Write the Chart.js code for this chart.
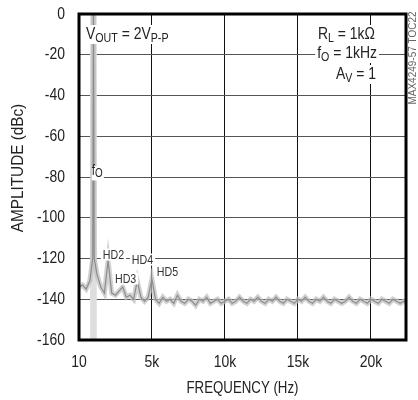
<!DOCTYPE html>
<html>
<head>
<meta charset="utf-8">
<script src="https://cdn.jsdelivr.net/npm/chart.js@4.4.0/dist/chart.umd.min.js"></script>
<style>
  html, body { margin: 0; padding: 0; background: #fff; }
</style>
</head>
<body>
<canvas id="GraficoFFT" width="418" height="400"></canvas>
<script>
// spectrum trace (Hz, dBc)
const freqHz = [10, 250, 500, 750, 950, 1000, 1050, 1250, 1500, 1750, 2000, 2250, 2500, 2750,
  3000, 3250, 3500, 3750, 4000, 4250, 4500, 4750, 5000, 5250, 5500, 5750, 6000, 6250, 6500, 6750,
  7000, 7250, 7500, 7750, 8000, 8250, 8500, 8750, 9000, 9250, 9500, 9750, 10000, 10250, 10500, 10750,
  11000, 11250, 11500, 11750, 12000, 12250, 12500, 12750, 13000, 13250, 13500, 13750, 14000, 14250,
  14500, 14750, 15000, 15250, 15500, 15750, 16000, 16250, 16500, 16750, 17000, 17250, 17500, 17750,
  18000, 18250, 18500, 18750, 19000, 19250, 19500, 19750, 20000, 20250, 20500, 20750, 21000, 21250,
  21500, 21750, 22000, 22250, 22400];
const levelDbc = [-134, -133, -135, -131, -120, 0, -120, -128, -134, -137, -121, -137, -138, -136,
  -134, -139, -138, -140, -131, -139, -141, -139, -130, -140, -142, -139, -141, -140, -142, -138,
  -141, -142, -140, -141, -143, -140, -141, -139, -142, -141, -140, -142, -141, -140, -142, -141,
  -139, -141, -142, -140, -141, -139, -141, -142, -140, -141, -139, -141, -142, -140,
  -141, -142, -140, -141, -139, -141, -142, -140, -141, -139, -141, -142, -140, -141,
  -142, -141, -139, -141, -142, -140, -141, -142, -140, -141, -142, -140, -141, -142,
  -140, -141, -142, -141, -141];

const fundamentalHz = 1000;
const fundamentalDbc = 0;

const yMin = -160;
const yMax = 0;
const yStep = 20;
const xMin = 10;
const xMax = 22400;
const xTickValues = [10, 5000, 10000, 15000, 20000];
const xTickLabels = ['10', '5k', '10k', '15k', '20k'];

// harmonic labels: text, left edge (Hz), baseline (dBc)
const markText = ['HD2', 'HD4', 'HD3', 'HD5'];
const markHz = [1640, 3630, 2470, 5340];
const markDbc = [-120, -122.5, -131.8, -128.8];

const FONT = "'Liberation Sans', Arial, sans-serif";
const NARROW = 0.82;

// texto estreito (a fonte original e condensada)
function texto(ctx, t, x, y, size, align, base, sx) {
  ctx.save();
  ctx.translate(x, y);
  ctx.scale(sx || NARROW, 1);
  ctx.font = size + 'px ' + FONT;
  ctx.textAlign = align;
  ctx.textBaseline = base;
  ctx.fillText(t, 0, 0);
  ctx.restore();
}

function drawParts(ctx, parts, x, y, align, bg) {
  // parts: [texto, tamanho, deslocamento vertical]
  let total = 0;
  parts.forEach(p => { ctx.font = p[1] + 'px ' + FONT; total += ctx.measureText(p[0]).width * NARROW; });
  let cx = align === 'right' ? x - total : x;
  if (bg) {
    ctx.fillStyle = '#fff';
    ctx.fillRect(cx - 2, y - 14, total + 4, 19);
  }
  ctx.fillStyle = '#222';
  parts.forEach(p => {
    texto(ctx, p[0], cx, y + p[2], p[1], 'left', 'alphabetic');
    ctx.font = p[1] + 'px ' + FONT;
    cx += ctx.measureText(p[0]).width * NARROW;
  });
}

const textos = {
  id: 'textos',
  afterDatasetsDraw(chart) {
    const ctx = chart.ctx;
    const a = chart.chartArea;
    const xs = chart.scales.x;
    const ys = chart.scales.y;
    ctx.save();
    drawParts(ctx, [['V', 17, 0], ['OUT', 13, 3], [' = 2V', 17, 0], ['P-P', 13, 3]], a.left + 7, a.top + 25, 'left', true);
    drawParts(ctx, [['R', 17, 0], ['L', 13, 3], [' = 1k\u03A9', 17, 0]], a.right - 31, a.top + 25, 'right', true);
    drawParts(ctx, [['f', 17, 0], ['O', 13, 3], [' = 1kHz', 17, 0]], a.right - 29, a.top + 44, 'right', true);
    drawParts(ctx, [['A', 17, 0], ['V', 13, 3], [' = 1', 17, 0]], a.right - 30, a.top + 65, 'right', true);

    // f0 label near the fundamental
    const fx = xs.getPixelForValue(890);
    const fy = ys.getPixelForValue(-80.2);
    ctx.fillStyle = '#fff';
    ctx.fillRect(fx, fy - 11, 12, 14);
    drawParts(ctx, [['f', 14, -2], ['O', 12, 0]], fx, fy, 'left', false);

    markText.forEach((t, i) => {
      const px = xs.getPixelForValue(markHz[i]);
      const py = ys.getPixelForValue(markDbc[i]);
      ctx.font = '13px ' + FONT;
      const w = ctx.measureText(t).width * NARROW;
      ctx.fillStyle = '#fff';
      ctx.fillRect(px - 2, py - 10, w + 4, 12);
      ctx.fillStyle = '#333';
      texto(ctx, t, px, py, 13, 'left', 'alphabetic');
    });
    ctx.restore();
  },
  afterDraw(chart) {
    const ctx = chart.ctx;
    const a = chart.chartArea;
    const xs = chart.scales.x;
    const ys = chart.scales.y;
    ctx.save();
    ctx.strokeStyle = '#000';
    ctx.lineWidth = 3;
    ctx.strokeRect(a.left, a.top, a.right - a.left, a.bottom - a.top);

    // tick labels
    ctx.fillStyle = '#222';
    ys.ticks.forEach(t => {
      texto(ctx, String(t.value), a.left - 14, ys.getPixelForValue(t.value), 17, 'right', 'middle');
    });
    xs.ticks.forEach(t => {
      const i = xTickValues.indexOf(t.value);
      texto(ctx, xTickLabels[i], xs.getPixelForValue(t.value), a.bottom + 22, 17, 'center', 'middle');
    });

    // axis titles
    texto(ctx, 'FREQUENCY (Hz)', (a.left + a.right) / 2, 388, 17, 'center', 'middle', 0.78);
    ctx.save();
    ctx.translate(18, 168);
    ctx.rotate(-Math.PI / 2);
    texto(ctx, 'AMPLITUDE (dBc)', 0, 0, 17, 'center', 'middle', 0.9);
    ctx.restore();

    // side code
    ctx.translate(413, 58);
    ctx.rotate(-Math.PI / 2);
    ctx.fillStyle = '#666';
    texto(ctx, 'MAX4249-57 TOC22', 0, 0, 10, 'center', 'middle', 1);
    ctx.restore();
  }
};

const pontos = freqHz.map((f, i) => ({ x: f, y: levelDbc[i] }));

const graficoFFT = new Chart(document.getElementById('GraficoFFT'), {
  type: 'line',
  data: {
    datasets: [
      {
        type: 'bar',
        data: [{ x: fundamentalHz, y: [yMin, fundamentalDbc] }],
        backgroundColor: '#dedede',
        barThickness: 6,
        order: 3
      },
      {
        data: pontos,
        borderColor: 'rgba(190,190,190,0.7)',
        borderWidth: 5,
        pointRadius: 0,
        tension: 0,
        order: 2
      },
      {
        data: pontos,
        borderColor: '#8c8c8c',
        borderWidth: 1.2,
        pointRadius: 0,
        tension: 0,
        order: 1
      }
    ]
  },
  options: {
    responsive: false,
    animation: false,
    devicePixelRatio: 1,
    layout: { padding: { top: 14, right: 12, left: 0, bottom: 0 } },
    plugins: { legend: { display: false }, tooltip: { enabled: false } },
    scales: {
      x: {
        type: 'linear',
        min: xMin,
        max: xMax,
        offset: false,
        afterFit: (s) => { s.height = 60; },
        afterBuildTicks: (s) => { s.ticks = xTickValues.map(v => ({ value: v })); },
        ticks: { display: false },
        grid: { color: '#111', lineWidth: 1, drawTicks: false, offset: false },
        border: { display: false }
      },
      y: {
        min: yMin,
        max: yMax,
        afterFit: (s) => { s.width = 79; },
        ticks: { stepSize: yStep, display: false },
        grid: { color: '#555', lineWidth: 1, drawTicks: false },
        border: { display: false }
      }
    }
  },
  plugins: [textos]
});
</script>
</body>
</html>
